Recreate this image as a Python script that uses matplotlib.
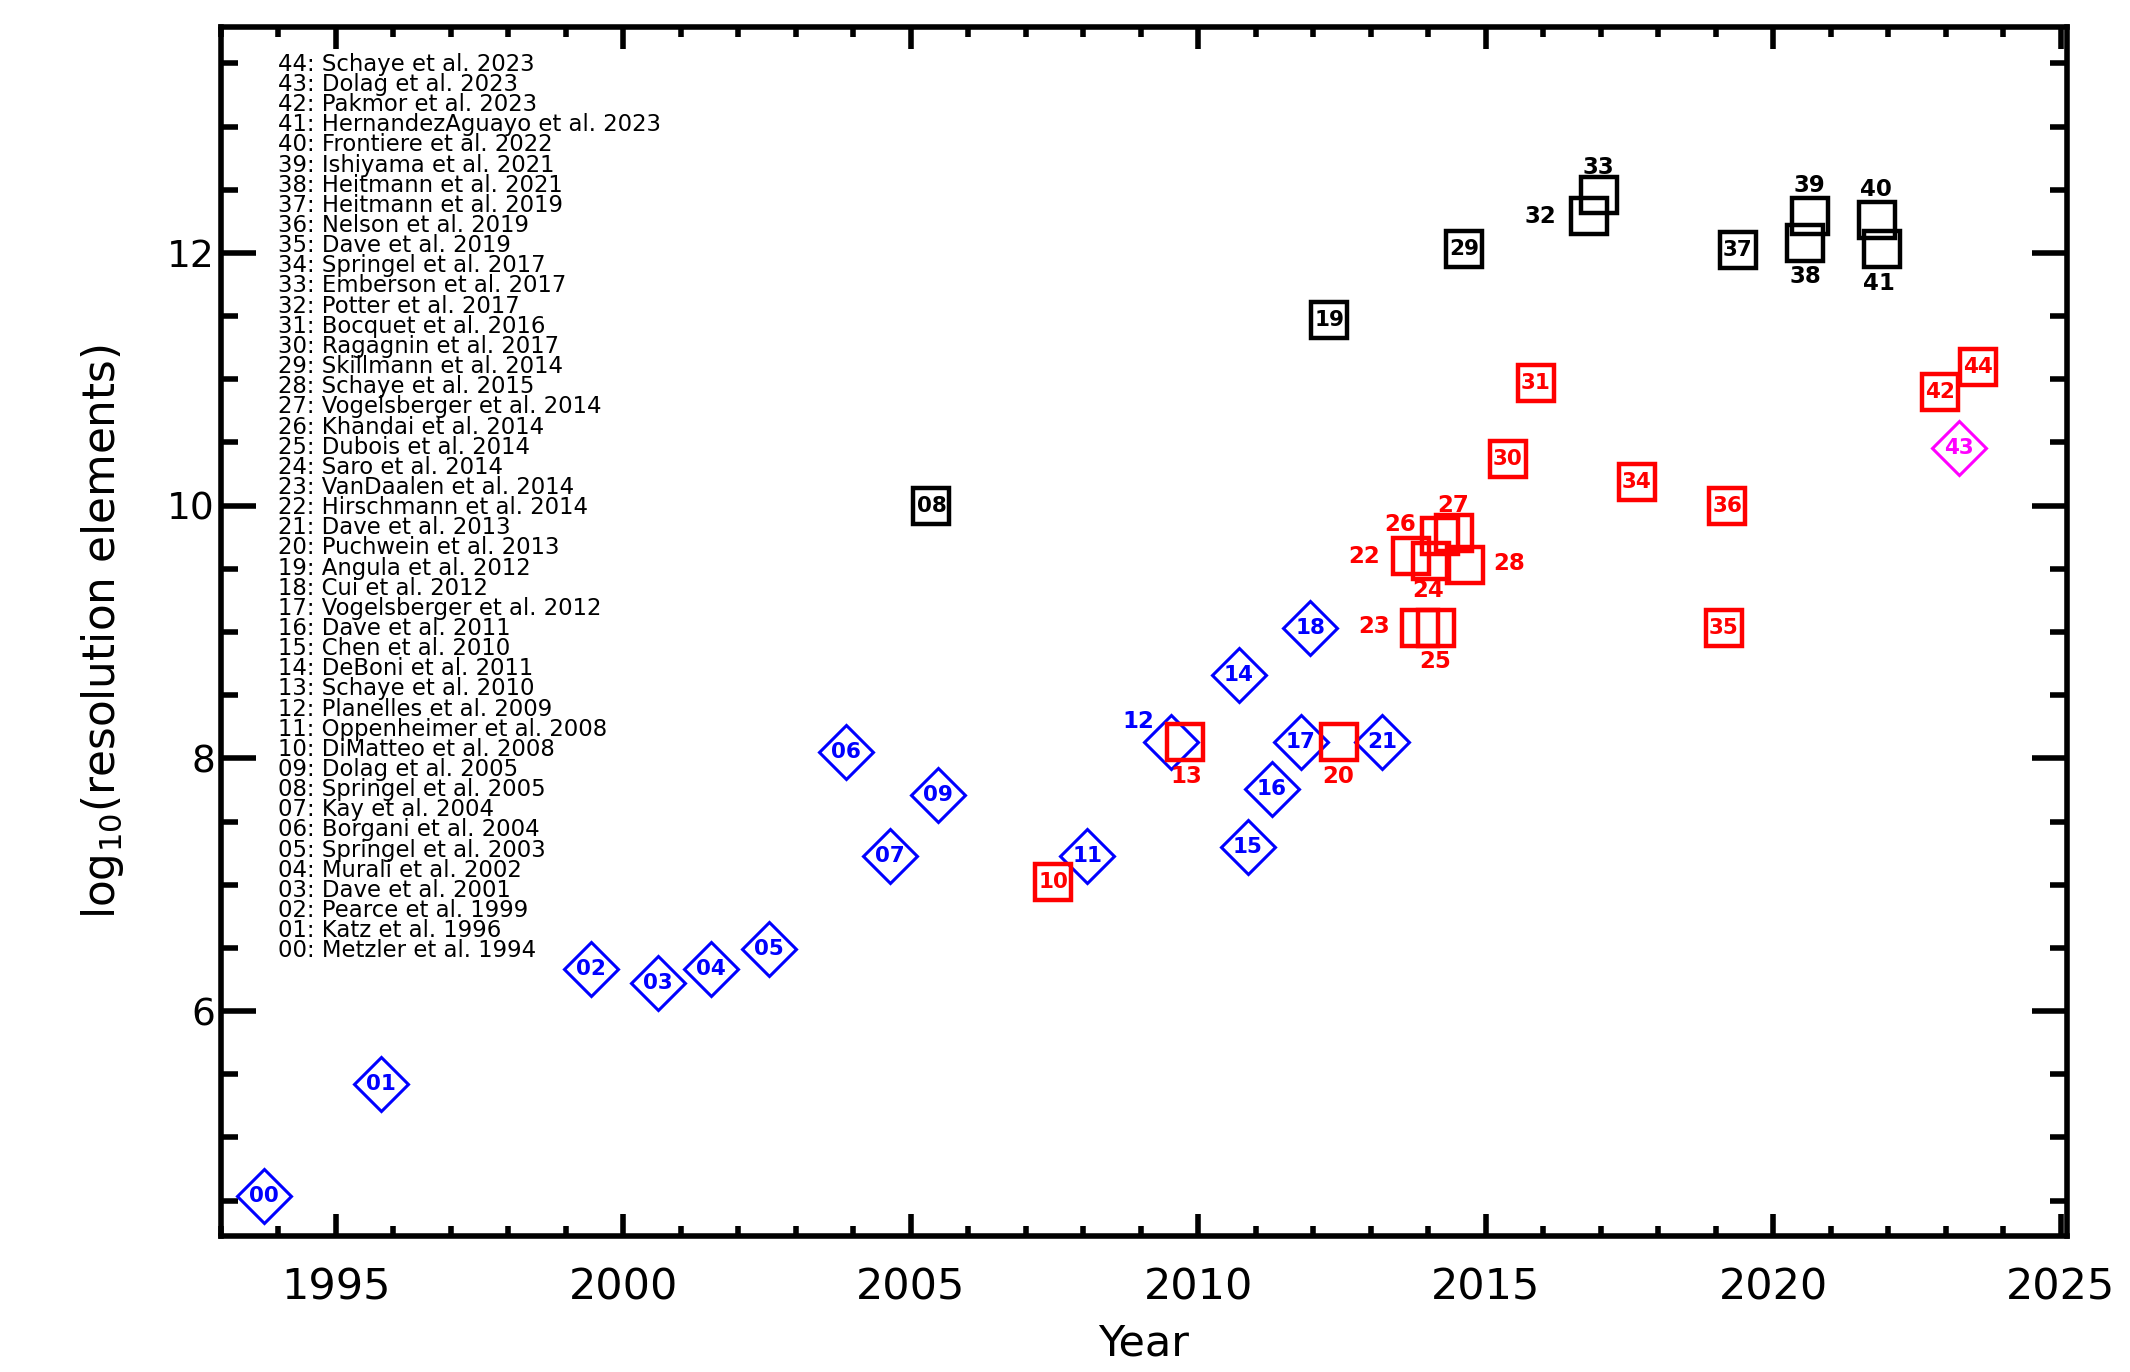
import matplotlib
matplotlib.use("Agg")
import matplotlib.pyplot as plt
from matplotlib.ticker import MultipleLocator

# reference list, index = simulation id
refs = [
    "Metzler et al. 1994", "Katz et al. 1996", "Pearce et al. 1999",
    "Dave et al. 2001", "Murali et al. 2002", "Springel et al. 2003",
    "Borgani et al. 2004", "Kay et al. 2004", "Springel et al. 2005",
    "Dolag et al. 2005", "DiMatteo et al. 2008", "Oppenheimer et al. 2008",
    "Planelles et al. 2009", "Schaye et al. 2010", "DeBoni et al. 2011",
    "Chen et al. 2010", "Dave et al. 2011", "Vogelsberger et al. 2012",
    "Cui et al. 2012", "Angula et al. 2012", "Puchwein et al. 2013",
    "Dave et al. 2013", "Hirschmann et al. 2014", "VanDaalen et al. 2014",
    "Saro et al. 2014", "Dubois et al. 2014", "Khandai et al. 2014",
    "Vogelsberger et al. 2014", "Schaye et al. 2015", "Skillmann et al. 2014",
    "Ragagnin et al. 2017", "Bocquet et al. 2016", "Potter et al. 2017",
    "Emberson et al. 2017", "Springel et al. 2017", "Dave et al. 2019",
    "Nelson et al. 2019", "Heitmann et al. 2019", "Heitmann et al. 2021",
    "Ishiyama et al. 2021", "Frontiere et al. 2022",
    "HernandezAguayo et al. 2023", "Pakmor et al. 2023", "Dolag et al. 2023",
    "Schaye et al. 2023",
]

# blue diamonds
blue_ids = ["00", "01", "02", "03", "04", "05", "06", "07", "09", "11",
            "12", "14", "15", "16", "17", "18", "21"]
blue_year = [1993.75, 1995.78, 1999.44, 2000.60, 2001.53, 2002.53, 2003.88,
             2004.63, 2005.47, 2008.07, 2009.53, 2010.70, 2010.86, 2011.28,
             2011.78, 2011.95, 2013.20]
blue_logn = [4.54, 5.42, 6.33, 6.22, 6.33, 6.49, 8.05, 7.23, 7.71, 7.23,
             8.13, 8.66, 7.30, 7.76, 8.13, 9.03, 8.13]

# red squares
red_ids = ["10", "13", "20", "22", "23", "24", "25", "26", "27", "28",
           "30", "31", "34", "35", "36", "42", "44"]
red_year = [2007.48, 2009.77, 2012.45, 2013.70, 2013.85, 2014.05, 2014.14,
            2014.21, 2014.45, 2014.63, 2015.38, 2015.87, 2017.62, 2019.14,
            2019.20, 2022.89, 2023.55]
red_logn = [7.02, 8.13, 8.13, 9.60, 9.03, 9.56, 9.03, 9.76, 9.78, 9.53,
            10.37, 10.97, 10.19, 9.03, 10.00, 10.90, 11.10]

# magenta diamond
mag_ids = ["43"]
mag_year = [2023.22]
mag_logn = [10.46]

# black squares
black_ids = ["08", "19", "29", "32", "33", "37", "38", "39", "40", "41"]
black_year = [2005.36, 2012.28, 2014.62, 2016.79, 2016.96, 2019.38,
              2020.55, 2020.63, 2021.80, 2021.89]
black_logn = [10.00, 11.47, 12.03, 12.29, 12.46, 12.02, 12.08, 12.29,
              12.26, 12.03]

# labels placed beside the symbol instead of inside (offset in points)
outside = {
    "12": (-24, 15), "13": (1, -25), "20": (-1, -25),
    "22": (-34, 0), "23": (-33, 1), "24": (-2, -21), "25": (-1, -24),
    "26": (-29, 8), "27": (-1, 20), "28": (32, 1),
    "32": (-35, 0), "33": (0, 20), "38": (0, -24), "39": (0, 22),
    "40": (-1, 22), "41": (-2, -25),
}

fig = plt.figure(figsize=(21.3, 13.72), dpi=100)
ax = fig.add_axes([0.1036, 0.0991, 0.8667, 0.8814])

groups = [
    (blue_ids, blue_year, blue_logn, "D", 27, 2.2, "blue"),
    (black_ids, black_year, black_logn, "s", 26, 3.2, "black"),
    (red_ids, red_year, red_logn, "s", 26, 3.2, "red"),
    (mag_ids, mag_year, mag_logn, "D", 27, 2.2, "magenta"),
]
for ids, xs, ys, mk, ms, mew, col in groups:
    ax.plot(xs, ys, ls="none", marker=mk, ms=ms, mew=mew, mfc="none",
            mec=col, zorder=3)
    for lab, x, y in zip(ids, xs, ys):
        if lab in outside:
            off, fs = outside[lab], 16.5
        else:
            off, fs = (0, 0), 15.5
        ax.annotate(lab, (x, y), xytext=off, textcoords="offset points",
                    ha="center", va="center", color=col, fontsize=fs,
                    fontweight="bold", zorder=4)

# reference list in the upper-left corner
for i, name in enumerate(refs[::-1]):
    num = len(refs) - 1 - i
    ax.text(0.0309, 0.9689 - 0.01666 * i, f"{num:02d}: {name}",
            transform=ax.transAxes, fontsize=16.4, va="center", ha="left")

ax.set_xlim(1993, 2025.1)
ax.set_ylim(4.22, 13.79)
ax.xaxis.set_major_locator(MultipleLocator(5))
ax.xaxis.set_minor_locator(MultipleLocator(1))
ax.yaxis.set_major_locator(MultipleLocator(2))
ax.yaxis.set_minor_locator(MultipleLocator(0.5))

ax.tick_params(which="both", direction="in", top=True, right=True, width=4)
ax.tick_params(axis="x", which="major", length=16, labelsize=31, pad=22)
ax.tick_params(axis="x", which="minor", length=7.5)
ax.tick_params(axis="y", which="major", length=25, labelsize=27, pad=4)
ax.tick_params(axis="y", which="minor", length=12)
for sp in ax.spines.values():
    sp.set_linewidth(4)

ax.set_xlabel("Year", fontsize=31, labelpad=10)
ax.set_ylabel(r"log$_{10}$(resolution elements)", fontsize=31.5, labelpad=30)

fig.savefig("out.png", dpi=100)
